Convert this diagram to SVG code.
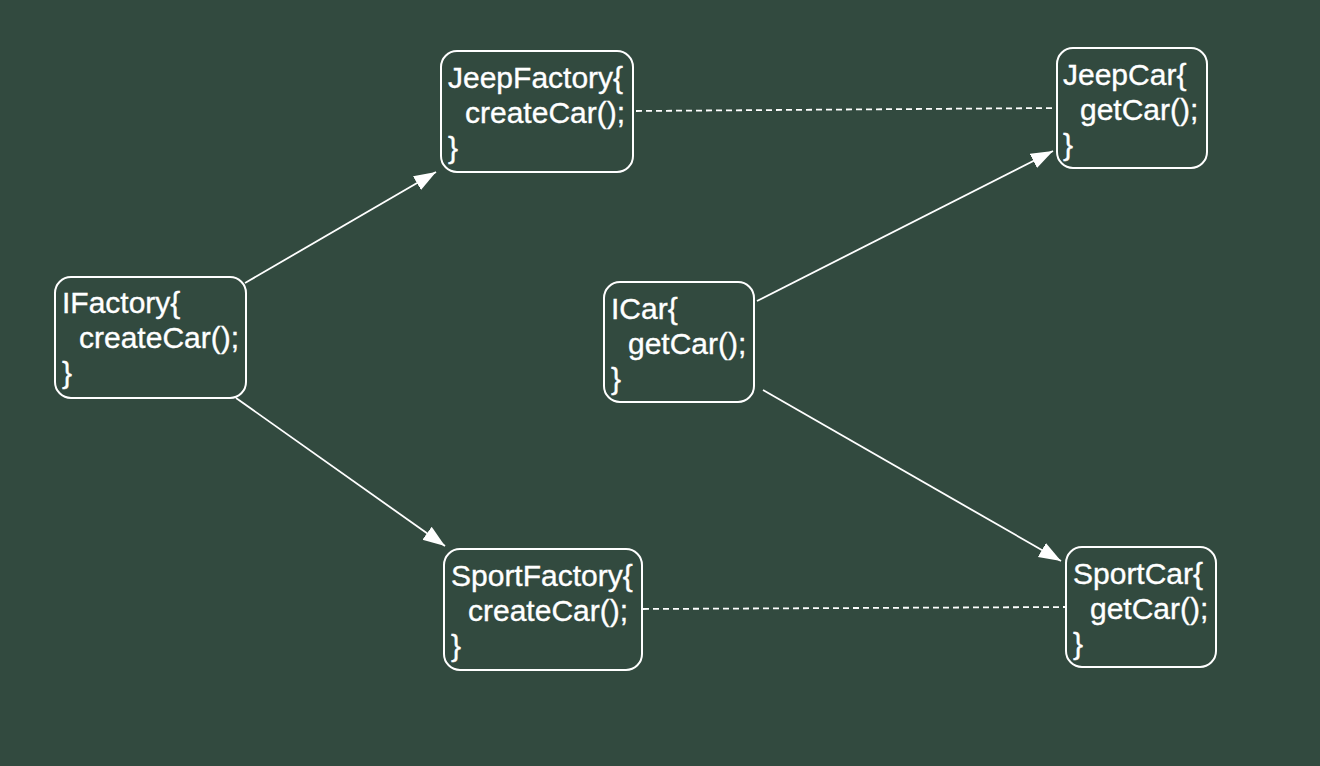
<svg xmlns="http://www.w3.org/2000/svg" width="1320" height="766" viewBox="0 0 1320 766">
<style>
.box{fill:none;stroke:#ffffff;stroke-width:2}
.t{fill:#ffffff;stroke:#ffffff;stroke-width:0.35;font-family:"Liberation Sans",Arial,sans-serif;font-size:30px}
.e{stroke:#ffffff;stroke-width:1.8;fill:none}
.d{stroke:#ffffff;stroke-width:1.8;fill:none;stroke-dasharray:6 4}
</style>
<defs>
<marker id="arr" markerUnits="userSpaceOnUse" markerWidth="24" markerHeight="18" refX="22" refY="8" orient="auto">
<path d="M0,0 L22,8 L0,16 z" fill="#ffffff"/>
</marker>
</defs>
<rect x="0" y="0" width="1320" height="766" fill="#324a3f"/>
<g id="connectors">
<line class="e" x1="245" y1="283" x2="436" y2="172" marker-end="url(#arr)"/>
<line class="e" x1="236" y1="398" x2="445" y2="546" marker-end="url(#arr)"/>
<line class="e" x1="757" y1="301" x2="1053" y2="151" marker-end="url(#arr)"/>
<line class="e" x1="763" y1="390" x2="1061" y2="561" marker-end="url(#arr)"/>
<line class="d" x1="636" y1="111" x2="1056" y2="108"/>
<line class="d" x1="643" y1="609" x2="1066" y2="607"/>
</g>
<g id="IFactory">
<rect class="box" x="55" y="277" width="191" height="121" rx="16"/>
<text class="t"><tspan x="62" y="313">IFactory{</tspan><tspan x="79" y="348">createCar();</tspan><tspan x="62" y="383">}</tspan></text>
</g>
<g id="JeepFactory">
<rect class="box" x="441" y="51" width="192" height="121" rx="16"/>
<text class="t"><tspan x="448" y="88">JeepFactory{</tspan><tspan x="465" y="123">createCar();</tspan><tspan x="448" y="158">}</tspan></text>
</g>
<g id="SportFactory">
<rect class="box" x="444" y="549" width="198" height="121" rx="16"/>
<text class="t"><tspan x="451" y="586">SportFactory{</tspan><tspan x="468" y="621">createCar();</tspan><tspan x="451" y="656">}</tspan></text>
</g>
<g id="ICar">
<rect class="box" x="604" y="282" width="150" height="120" rx="16"/>
<text class="t"><tspan x="611" y="319">ICar{</tspan><tspan x="628" y="354">getCar();</tspan><tspan x="611" y="389">}</tspan></text>
</g>
<g id="JeepCar">
<rect class="box" x="1057" y="48" width="150" height="120" rx="16"/>
<text class="t"><tspan x="1063" y="85">JeepCar{</tspan><tspan x="1080" y="120">getCar();</tspan><tspan x="1063" y="155">}</tspan></text>
</g>
<g id="SportCar">
<rect class="box" x="1066" y="547" width="150" height="120" rx="16"/>
<text class="t"><tspan x="1073" y="584">SportCar{</tspan><tspan x="1090" y="619">getCar();</tspan><tspan x="1073" y="654">}</tspan></text>
</g>
</svg>
